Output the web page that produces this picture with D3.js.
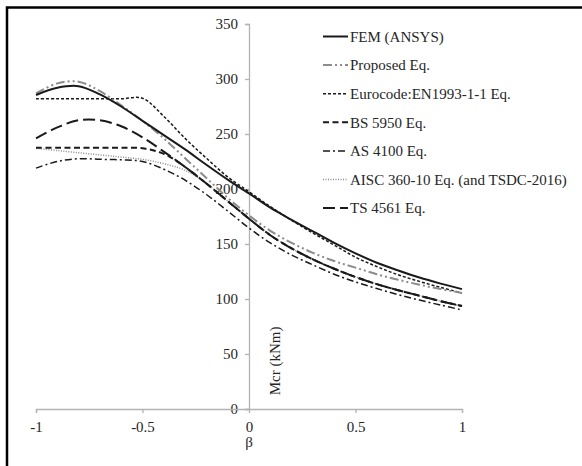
<!DOCTYPE html>
<html>
<head>
<meta charset="utf-8">
<script src="https://cdn.jsdelivr.net/npm/d3@7"></script>
<style>
  body { margin: 0; background: #fff; }
  text { font-family: "Liberation Serif", "Times New Roman", serif; fill: #262626; }
</style>
</head>
<body>
<div id="chart"></div>
<script>
// beta values (x)
const beta = [-1, -0.9, -0.8, -0.7, -0.6, -0.5, -0.4, -0.3, -0.2, -0.1, 0,
              0.1, 0.2, 0.3, 0.4, 0.5, 0.6, 0.7, 0.8, 0.9, 1];

// Mcr values (kNm)
const femAnsys   = [285.5, 292, 293.5, 286, 275, 262, 249, 236, 222, 208.5, 196, 183, 172, 161.5, 151, 141.5, 133, 126, 119.5, 114, 109];
const proposed   = [287, 296, 297.5, 289, 276, 262, 246, 228, 210, 192, 176, 162, 151, 142, 134.5, 128.5, 122.5, 117.5, 113, 109, 105.5];
const eurocode   = [282, 282, 282, 282, 282, 282.5, 266, 246, 228, 211, 197.5, 184, 171.5, 160, 149, 138, 129.5, 122, 116, 110.5, 105.5];
const bs5950     = [237.5, 237.5, 237.5, 237.5, 237.5, 237, 232, 220, 205, 189, 173, 158, 146, 136, 127.5, 120, 113.5, 108, 103, 98, 93.6];
const as4100     = [219, 225, 227.5, 227, 226.5, 225, 218, 208, 195, 180, 164.5, 151, 140, 131, 122.5, 115.5, 109.5, 104, 99, 94.5, 90];
const aisc       = [237, 235, 233, 231, 229, 227, 223, 217, 205, 189, 173, 158, 146, 136, 127.5, 120, 113.5, 108, 103, 98, 93.6];
const ts4561     = [246, 256, 262.5, 262.5, 257, 247, 234, 220, 205, 189, 173, 158, 146, 136, 127.5, 120, 113.5, 108, 103, 98, 93.6];

const xTicks = [-1, -0.5, 0, 0.5, 1];
const yTicks = [0, 50, 100, 150, 200, 250, 300, 350];

const seriesNames = ["FEM (ANSYS)", "Proposed Eq.", "Eurocode:EN1993-1-1 Eq.", "BS 5950 Eq.",
                     "AS 4100 Eq.", "AISC 360-10 Eq. (and TSDC-2016)", "TS 4561 Eq."];
const seriesValues = [femAnsys, proposed, eurocode, bs5950, as4100, aisc, ts4561];

// line looks, same order as the names
const lineStyles = [
  { color: "#1a1a1a", width: 2,   dash: null },
  { color: "#8c8c8c", width: 2,   dash: "9,3,2,3,2,3" },
  { color: "#1a1a1a", width: 1.5, dash: "3,2" },
  { color: "#1a1a1a", width: 2,   dash: "6,3.5" },
  { color: "#1a1a1a", width: 1.5, dash: "7,3,2,3" },
  { color: "#8c8c8c", width: 1.5, dash: "1,1.5" },
  { color: "#1a1a1a", width: 2,   dash: "12,5" }
];

const width = 582, height = 466;

const svg = d3.select("#chart").append("svg")
  .attr("width", width)
  .attr("height", height);

// frame (only left and top edges show in the crop)
svg.append("rect").attr("x", 0).attr("y", 0).attr("width", width).attr("height", height).attr("fill", "#fff");
svg.append("path")
  .attr("d", `M7,${height} L7,7.5 L${width},7.5`)
  .attr("fill", "none")
  .attr("stroke", "#000")
  .attr("stroke-width", 2.5);

const xScale = d3.scaleLinear().domain([-1, 1]).range([36, 462]);
const yScale = d3.scaleLinear().domain([0, 350]).range([409, 24]);

const axisColor = "#b3b3b3";

// y axis sits at beta = 0
const yAxis = svg.append("g")
  .attr("transform", `translate(${xScale(0)},0)`)
  .call(d3.axisLeft(yScale).tickValues(yTicks).tickSize(4).tickPadding(7).tickFormat(d3.format("d")));
yAxis.select(".domain").attr("stroke", axisColor).attr("stroke-width", 1.3);
yAxis.selectAll(".tick line").attr("stroke", axisColor).attr("stroke-width", 1.3);
yAxis.selectAll(".tick text").attr("font-size", "15px");

// x axis at Mcr = 0
const xAxis = svg.append("g")
  .attr("transform", `translate(0,${yScale(0)})`)
  .call(d3.axisBottom(xScale).tickValues(xTicks).tickSize(4).tickPadding(8).tickFormat(d => d));
xAxis.select(".domain").attr("stroke", axisColor).attr("stroke-width", 1.3);
xAxis.selectAll(".tick line").attr("stroke", axisColor).attr("stroke-width", 1.3);
xAxis.selectAll(".tick text").attr("font-size", "15px");

// axis titles
svg.append("text")
  .text("β")
  .attr("x", xScale(0))
  .attr("y", 447)
  .attr("text-anchor", "middle")
  .attr("font-size", "15px");

svg.append("text")
  .text("Mcr (kNm)")
  .attr("transform", `translate(280,361) rotate(-90)`)
  .attr("text-anchor", "middle")
  .attr("font-size", "15px");

// curves (smoothed like the spreadsheet lines)
const line = d3.line()
  .x((d, i) => xScale(beta[i]))
  .y(d => yScale(d))
  .curve(d3.curveCatmullRom.alpha(0.5));

// draw back to front so FEM ends on top
const order = [5, 3, 6, 4, 2, 1, 0];
order.forEach(k => {
  const st = lineStyles[k];
  svg.append("path")
    .attr("d", line(seriesValues[k]))
    .attr("fill", "none")
    .attr("stroke", st.color)
    .attr("stroke-width", st.width)
    .attr("stroke-dasharray", st.dash);
});

// legend
const legend = svg.append("g");
seriesNames.forEach((name, i) => {
  const y = 36.5 + i * 28.6;
  const st = lineStyles[i];
  legend.append("line")
    .attr("x1", 323).attr("x2", 348)
    .attr("y1", y).attr("y2", y)
    .attr("stroke", st.color)
    .attr("stroke-width", st.width)
    .attr("stroke-dasharray", st.dash);
  legend.append("text")
    .text(name)
    .attr("x", 350)
    .attr("y", y)
    .attr("dy", "0.35em")
    .attr("font-size", "15px");
});
</script>
</body>
</html>
